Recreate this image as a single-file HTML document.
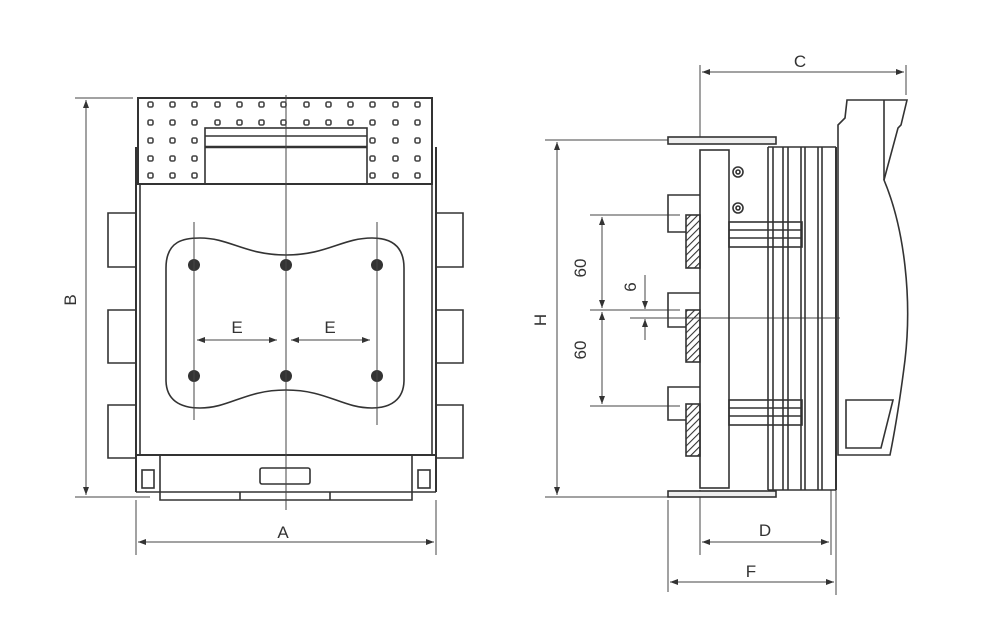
<!DOCTYPE html>
<html><head><meta charset="utf-8"><style>html,body{margin:0;padding:0;background:#fff}svg{display:block}</style></head><body>
<svg width="1000" height="643" viewBox="0 0 1000 643" xmlns="http://www.w3.org/2000/svg" font-family="Liberation Sans, sans-serif">
<defs>
<pattern id="h" width="5" height="5" patternUnits="userSpaceOnUse" patternTransform="rotate(45)"><line x1="0" y1="0" x2="0" y2="5" stroke="#333" stroke-width="2.2"/></pattern>
<marker id="a" markerWidth="8" markerHeight="6" refX="8" refY="3" orient="auto-start-reverse"><path d="M0,0 L8,3 L0,6z" fill="#333"/></marker>
</defs>
<g fill="none" stroke="#333" stroke-width="1.6">
<rect x="138" y="98" width="294" height="86" stroke-width="2"/>
<rect x="205" y="128" width="162" height="56"/>
<line x1="205" y1="136" x2="367" y2="136"/>
<line x1="205" y1="147" x2="367" y2="147" stroke-width="2.4"/>
<line x1="136" y1="147" x2="136" y2="492" stroke-width="2"/>
<line x1="140" y1="184" x2="140" y2="455"/>
<line x1="436" y1="147" x2="436" y2="492" stroke-width="2"/>
<line x1="432" y1="184" x2="432" y2="455"/>
<line x1="136" y1="455" x2="436" y2="455" stroke-width="2"/>
<line x1="136" y1="492" x2="160" y2="492"/>
<line x1="412" y1="492" x2="436" y2="492"/>
<path d="M160 455 V500 H412 V455"/>
<line x1="160" y1="492" x2="412" y2="492"/>
<line x1="240" y1="492" x2="240" y2="500"/><line x1="330" y1="492" x2="330" y2="500"/>
<rect x="260" y="468" width="50" height="16" rx="2"/>
<rect x="142" y="470" width="12" height="18"/>
<rect x="418" y="470" width="12" height="18"/>
<path d="M136 213 H108 V267 H136 M136 310 H108 V363 H136 M136 405 H108 V458 H136"/>
<path d="M436 213 H463 V267 H436 M436 310 H463 V363 H436 M436 405 H463 V458 H436"/>
<path d="M166 268 C166 240 185 238 200 238 C230 238 245 255 286 255 C327 255 342 238 372 238 C390 238 404 245 404 268 V380 C404 400 390 408 372 408 C342 408 327 390 286 390 C245 390 230 408 200 408 C180 408 166 400 166 380 Z"/>
</g>
<g fill="#333">
<circle cx="194" cy="265" r="6"/><circle cx="286" cy="265" r="6"/><circle cx="377" cy="265" r="6"/>
<circle cx="194" cy="376" r="6"/><circle cx="286" cy="376" r="6"/><circle cx="377" cy="376" r="6"/>
</g>
<g stroke="#444" stroke-width="1" fill="none">
<line x1="286" y1="95" x2="286" y2="510"/>
<line x1="194" y1="222" x2="194" y2="420"/>
<line x1="377" y1="222" x2="377" y2="425"/>
<line x1="197" y1="340" x2="277" y2="340" marker-start="url(#a)" marker-end="url(#a)"/>
<line x1="291" y1="340" x2="370" y2="340" marker-start="url(#a)" marker-end="url(#a)"/>
<line x1="75" y1="98" x2="133" y2="98"/>
<line x1="75" y1="497" x2="150" y2="497"/>
<line x1="86" y1="100" x2="86" y2="495" marker-start="url(#a)" marker-end="url(#a)"/>
<line x1="136" y1="500" x2="136" y2="555"/>
<line x1="436" y1="500" x2="436" y2="555"/>
<line x1="138" y1="542" x2="434" y2="542" marker-start="url(#a)" marker-end="url(#a)"/>
<line x1="700" y1="65" x2="700" y2="140"/>
<line x1="906" y1="65" x2="906" y2="95"/>
<line x1="702" y1="72" x2="904" y2="72" marker-start="url(#a)" marker-end="url(#a)"/>
<line x1="545" y1="140" x2="668" y2="140"/>
<line x1="545" y1="497" x2="668" y2="497"/>
<line x1="557" y1="142" x2="557" y2="495" marker-start="url(#a)" marker-end="url(#a)"/>
<line x1="590" y1="215" x2="680" y2="215"/>
<line x1="590" y1="310" x2="680" y2="310"/>
<line x1="630" y1="318" x2="840" y2="318"/>
<line x1="590" y1="406" x2="680" y2="406"/>
<line x1="602" y1="217" x2="602" y2="308" marker-start="url(#a)" marker-end="url(#a)"/>
<line x1="602" y1="312" x2="602" y2="404" marker-start="url(#a)" marker-end="url(#a)"/>
<line x1="645" y1="275" x2="645" y2="309" marker-end="url(#a)"/>
<line x1="645" y1="340" x2="645" y2="319" marker-end="url(#a)"/>
<line x1="668" y1="500" x2="668" y2="592"/>
<line x1="700" y1="490" x2="700" y2="555"/>
<line x1="831" y1="490" x2="831" y2="555"/>
<line x1="836" y1="460" x2="836" y2="595"/>
<line x1="702" y1="542" x2="829" y2="542" marker-start="url(#a)" marker-end="url(#a)"/>
<line x1="670" y1="582" x2="834" y2="582" marker-start="url(#a)" marker-end="url(#a)"/>
</g>
<g fill="none" stroke="#333" stroke-width="1.6">
<rect x="668" y="137" width="108" height="7" fill="#eee"/>
<rect x="668" y="491" width="108" height="6" fill="#eee"/>
<rect x="700" y="150" width="29" height="338"/>
<path d="M700 195 H668 V232 H686 M700 293 H668 V327 H686 M700 387 H668 V420 H686"/>
<rect x="686" y="215" width="14" height="53" fill="url(#h)"/>
<rect x="686" y="310" width="14" height="52" fill="url(#h)"/>
<rect x="686" y="404" width="14" height="52" fill="url(#h)"/>
<circle cx="738" cy="172" r="5"/><circle cx="738" cy="172" r="2"/>
<circle cx="738" cy="208" r="5"/><circle cx="738" cy="208" r="2"/>
<rect x="729" y="222" width="73" height="25"/>
<line x1="729" y1="230" x2="802" y2="230"/><line x1="729" y1="238" x2="802" y2="238"/>
<rect x="729" y="400" width="73" height="25"/>
<line x1="729" y1="408" x2="802" y2="408"/><line x1="729" y1="416" x2="802" y2="416"/>
<line x1="768" y1="147" x2="768" y2="490"/><line x1="773" y1="147" x2="773" y2="490"/>
<line x1="783" y1="147" x2="783" y2="490"/><line x1="788" y1="147" x2="788" y2="490"/>
<line x1="801" y1="147" x2="801" y2="490"/><line x1="805" y1="147" x2="805" y2="490"/>
<line x1="818" y1="147" x2="818" y2="490"/><line x1="822" y1="147" x2="822" y2="490"/>
<line x1="836" y1="147" x2="836" y2="490" stroke-width="2"/>
<line x1="768" y1="147" x2="836" y2="147"/>
<line x1="768" y1="490" x2="836" y2="490"/>
<path d="M847 100 H907 L901 125 L898 128 L884 180 C905 230 912 300 905 360 C900 400 895 430 890 455 H838 V125 L845 118 Z"/>
<line x1="884" y1="100" x2="884" y2="180"/>
<path d="M846 400 H893 L881 448 H846 Z"/>
</g>
<g fill="#333" font-size="17">
<text x="237" y="333" text-anchor="middle">E</text>
<text x="330" y="333" text-anchor="middle">E</text>
<text x="283" y="538" text-anchor="middle">A</text>
<text x="800" y="67" text-anchor="middle">C</text>
<text x="765" y="536" text-anchor="middle">D</text>
<text x="751" y="577" text-anchor="middle">F</text>
<text transform="translate(76,300) rotate(-90)" text-anchor="middle">B</text>
<text transform="translate(546,320) rotate(-90)" text-anchor="middle">H</text>
<text transform="translate(586,268) rotate(-90)" text-anchor="middle">60</text>
<text transform="translate(586,350) rotate(-90)" text-anchor="middle">60</text>
<text transform="translate(636,287) rotate(-90)" text-anchor="middle">6</text>
</g>
<g fill="none" stroke="#444" stroke-width="1.6">
<rect x="148" y="102" width="5" height="5" rx="1.5"/><rect x="170" y="102" width="5" height="5" rx="1.5"/><rect x="192" y="102" width="5" height="5" rx="1.5"/><rect x="215" y="102" width="5" height="5" rx="1.5"/><rect x="237" y="102" width="5" height="5" rx="1.5"/><rect x="259" y="102" width="5" height="5" rx="1.5"/><rect x="281" y="102" width="5" height="5" rx="1.5"/><rect x="304" y="102" width="5" height="5" rx="1.5"/><rect x="326" y="102" width="5" height="5" rx="1.5"/><rect x="348" y="102" width="5" height="5" rx="1.5"/><rect x="370" y="102" width="5" height="5" rx="1.5"/><rect x="393" y="102" width="5" height="5" rx="1.5"/><rect x="415" y="102" width="5" height="5" rx="1.5"/>
<rect x="148" y="120" width="5" height="5" rx="1.5"/><rect x="170" y="120" width="5" height="5" rx="1.5"/><rect x="192" y="120" width="5" height="5" rx="1.5"/><rect x="215" y="120" width="5" height="5" rx="1.5"/><rect x="237" y="120" width="5" height="5" rx="1.5"/><rect x="259" y="120" width="5" height="5" rx="1.5"/><rect x="281" y="120" width="5" height="5" rx="1.5"/><rect x="304" y="120" width="5" height="5" rx="1.5"/><rect x="326" y="120" width="5" height="5" rx="1.5"/><rect x="348" y="120" width="5" height="5" rx="1.5"/><rect x="370" y="120" width="5" height="5" rx="1.5"/><rect x="393" y="120" width="5" height="5" rx="1.5"/><rect x="415" y="120" width="5" height="5" rx="1.5"/>
<rect x="148" y="138" width="5" height="5" rx="1.5"/><rect x="170" y="138" width="5" height="5" rx="1.5"/><rect x="192" y="138" width="5" height="5" rx="1.5"/><rect x="370" y="138" width="5" height="5" rx="1.5"/><rect x="393" y="138" width="5" height="5" rx="1.5"/><rect x="415" y="138" width="5" height="5" rx="1.5"/>
<rect x="148" y="156" width="5" height="5" rx="1.5"/><rect x="170" y="156" width="5" height="5" rx="1.5"/><rect x="192" y="156" width="5" height="5" rx="1.5"/><rect x="370" y="156" width="5" height="5" rx="1.5"/><rect x="393" y="156" width="5" height="5" rx="1.5"/><rect x="415" y="156" width="5" height="5" rx="1.5"/>
<rect x="148" y="173" width="5" height="5" rx="1.5"/><rect x="170" y="173" width="5" height="5" rx="1.5"/><rect x="192" y="173" width="5" height="5" rx="1.5"/><rect x="370" y="173" width="5" height="5" rx="1.5"/><rect x="393" y="173" width="5" height="5" rx="1.5"/><rect x="415" y="173" width="5" height="5" rx="1.5"/>
</g>
</svg>
</body></html>
